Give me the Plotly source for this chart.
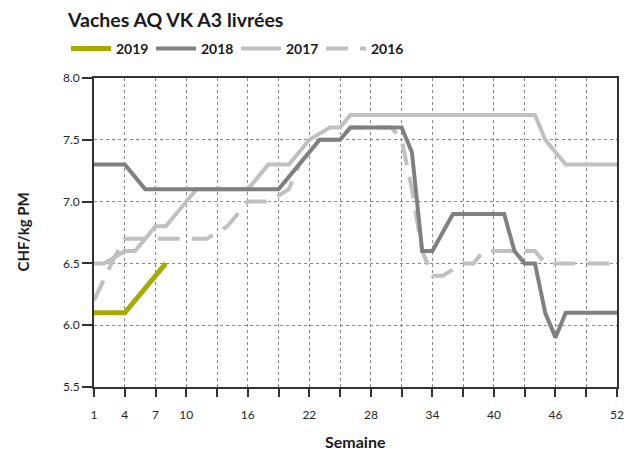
import plotly.graph_objects as go

# Weekly price per kg carcass weight (CHF/kg PM), weeks 1..52
weeks = list(range(1, 53))

price_2019 = [6.1, 6.1, 6.1, 6.1, 6.2, 6.3, 6.4, 6.5]

price_2018 = ([7.3] * 4 + [7.2] + [7.1] * 14 +
              [7.2, 7.3, 7.4, 7.5, 7.5, 7.5] + [7.6] * 6 +
              [7.4, 6.6, 6.6, 6.75, 6.9] + [6.9] * 5 +
              [6.6, 6.5, 6.5, 6.1, 5.9] + [6.1] * 6)

price_2017 = ([6.5, 6.5, 6.55, 6.6, 6.6, 6.7, 6.8, 6.8, 6.9, 7.0] + [7.1] * 6 +
              [7.2, 7.3, 7.3, 7.3, 7.4, 7.5, 7.55, 7.6, 7.6] + [7.7] * 19 +
              [7.5, 7.4] + [7.3] * 6)

price_2016 = ([6.2, 6.37, 6.55, 6.7] + [6.7] * 8 +
              [6.75, 6.8, 6.9, 7.0, 7.0, 7.0, 7.05, 7.1, 7.3, 7.4, 7.5, 7.5, 7.5] +
              [7.6] * 5 +
              [7.5, 7.1, 6.6, 6.4, 6.4, 6.45, 6.5, 6.5] + [6.6] * 6 + [6.5] * 8)

x_ticks = list(range(1, 53, 3))
x_labels = [str(w) if w in (1, 4, 7, 10, 16, 22, 28, 34, 40, 46, 52) else "" for w in x_ticks]
y_ticks = [5.5, 6.0, 6.5, 7.0, 7.5, 8.0]
y_labels = ["5.5", "6.0", "6.5", "7.0", "7.5", "8.0"]

FONT = "Lato"
TXT = "#262626"

fig = go.Figure()
fig.add_trace(go.Scatter(x=weeks[:len(price_2016)], y=price_2016, name="2016", mode="lines",
                         line=dict(color="#c0c0c0", width=4, dash="22px,12px")))
fig.add_trace(go.Scatter(x=weeks[:len(price_2017)], y=price_2017, name="2017", mode="lines",
                         line=dict(color="#c0c0c0", width=4)))
fig.add_trace(go.Scatter(x=weeks[:len(price_2018)], y=price_2018, name="2018", mode="lines",
                         line=dict(color="#808080", width=4)))
fig.add_trace(go.Scatter(x=weeks[:len(price_2019)], y=price_2019, name="2019", mode="lines",
                         line=dict(color="#a5ab00", width=5)))

fig.update_layout(
    width=640, height=456,
    margin=dict(l=94, r=23, t=78, b=69),
    paper_bgcolor="white", plot_bgcolor="white",
    font=dict(family=FONT, color=TXT, size=12),
    title=dict(text="<b>Vaches AQ VK A3 livrées</b>", x=68 / 640, xanchor="left",
               xref="container", yref="container", y=1 - 20 / 456, yanchor="middle",
               font=dict(size=19.5, color="#1a1a1a", family=FONT)),
    showlegend=True,
    legend=dict(orientation="h", traceorder="reversed", x=(66 - 94) / 523, xanchor="left",
                y=1 + 29 / 309, yanchor="middle",
                font=dict(size=14, color="#1a1a1a", family=FONT, weight="bold"),
                entrywidth=30, entrywidthmode="pixels", itemwidth=40, bgcolor="rgba(0,0,0,0)"),
    xaxis=dict(range=[1, 52], tickmode="array", tickvals=x_ticks, ticktext=x_labels,
               showgrid=True, gridcolor="#8a8a8a", griddash="dot", gridwidth=1,
               showline=True, linecolor="#333333", linewidth=1.5, mirror=True,
               ticks="outside", ticklen=8, tickcolor="#333333", tickwidth=1.5,
               ticklabelstandoff=8,
               zeroline=False, tickfont=dict(size=12, color=TXT)),
    yaxis=dict(range=[5.5, 8.0], tickmode="array", tickvals=y_ticks, ticktext=y_labels,
               showgrid=True, gridcolor="#8a8a8a", griddash="dot", gridwidth=1,
               showline=True, linecolor="#333333", linewidth=1.5, mirror=True,
               ticks="outside", ticklen=10, tickcolor="#333333", tickwidth=1.5,
               zeroline=False, tickfont=dict(size=12, color=TXT)),
    annotations=[
        dict(text="<b>Semaine</b>", xref="paper", yref="paper", x=0.5, y=0, yshift=-54,
             xanchor="center", yanchor="middle", showarrow=False,
             font=dict(size=16, color="#1a1a1a", family=FONT)),
        dict(text="<b>CHF/kg PM</b>", xref="paper", yref="paper", x=0, y=0.5, xshift=-72,
             xanchor="center", yanchor="middle", showarrow=False, textangle=-90,
             font=dict(size=15, color="#1a1a1a", family=FONT)),
    ],
)

fig.write_html("out.html")
